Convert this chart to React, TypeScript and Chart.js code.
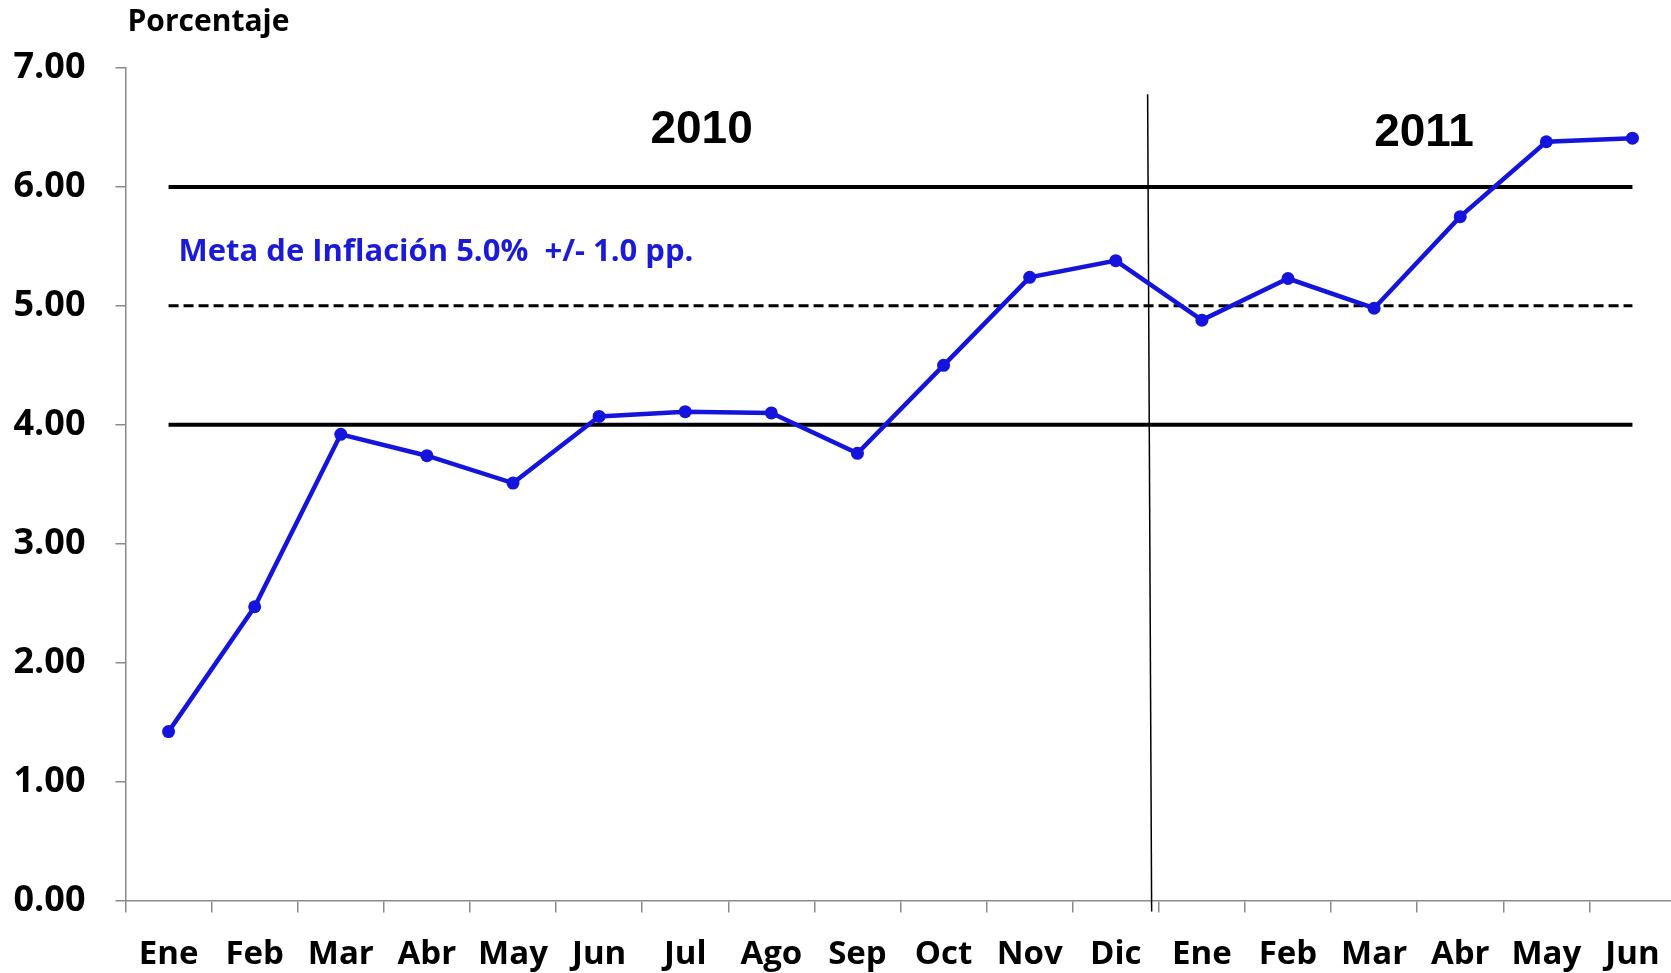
import React, { useEffect, useRef } from "react";
import { Chart, registerables } from "chart.js";

Chart.register(...registerables);

const months = ["Ene", "Feb", "Mar", "Abr", "May", "Jun", "Jul", "Ago", "Sep", "Oct", "Nov", "Dic", "Ene", "Feb", "Mar", "Abr", "May", "Jun"];
const inflation = [1.42, 2.47, 3.92, 3.74, 3.51, 4.07, 4.11, 4.1, 3.76, 4.5, 5.24, 5.38, 4.88, 5.23, 4.98, 5.75, 6.38, 6.41];
const targetLower = 4;
const targetCenter = 5;
const targetUpper = 6;
const yMin = 0;
const yMax = 7;
const yStep = 1;
const yearLabels = [
  { text: "2010", at: 6.19, value: 6.48 },
  { text: "2011", at: 14.58, value: 6.45 },
];
const yearDividerAt = 11.37;
const yearDividerTop = 6.78;
const targetNote = "Meta de Inflación 5.0%  +/- 1.0 pp.";
const yTitle = "Porcentaje";

const FONT = "'Open Sans', Lato, sans-serif";

const overlayPlugin = {
  id: "overlay",
  beforeDatasetsDraw(chart: any) {
    const { ctx, scales } = chart;
    const x = scales.x;
    const y = scales.y;
    const x0 = x.getPixelForValue(0);
    const x1 = x.getPixelForValue(months.length - 1);
    ctx.save();
    ctx.strokeStyle = "#000000";
    ctx.lineWidth = 4;
    for (const v of [targetUpper, targetLower]) {
      const py = y.getPixelForValue(v);
      ctx.beginPath();
      ctx.moveTo(x0, py);
      ctx.lineTo(x1, py);
      ctx.stroke();
    }
    ctx.lineWidth = 3;
    ctx.setLineDash([10, 5]);
    const pc = y.getPixelForValue(targetCenter);
    ctx.beginPath();
    ctx.moveTo(x0, pc);
    ctx.lineTo(x1, pc);
    ctx.stroke();
    ctx.setLineDash([]);
    const dx = x.getPixelForValue(yearDividerAt);
    ctx.lineWidth = 1.5;
    ctx.beginPath();
    ctx.moveTo(dx, y.getPixelForValue(yearDividerTop));
    ctx.lineTo(dx + 4, y.bottom + 11);
    ctx.stroke();
    ctx.fillStyle = "#000000";
    ctx.font = "bold 46px 'Liberation Sans', Arial, sans-serif";
    ctx.textAlign = "center";
    ctx.textBaseline = "middle";
    for (const yl of yearLabels) {
      ctx.fillText(yl.text, x.getPixelForValue(yl.at), y.getPixelForValue(yl.value));
    }
    ctx.fillStyle = "#1a1ad8";
    ctx.font = "bold 31px " + FONT;
    ctx.textAlign = "left";
    ctx.fillText(targetNote, x0 + 10, y.getPixelForValue(5.45));
    ctx.fillStyle = "#000000";
    ctx.font = "bold 30px " + FONT;
    ctx.fillText(yTitle, y.right + 2, 22);
    ctx.restore();
  },
};

export default function App() {
  const ref = useRef<HTMLCanvasElement | null>(null);
  useEffect(() => {
    if (!ref.current) return;
    const chart = new Chart(ref.current, {
      type: "line",
      data: {
        labels: months,
        datasets: [
          {
            data: inflation,
            borderColor: "#1414dc",
            backgroundColor: "#1414dc",
            borderWidth: 4.5,
            pointRadius: 6.5,
            pointBorderWidth: 0,
            tension: 0,
          },
        ],
      },
      options: {
        responsive: false,
        animation: false,
        layout: { padding: { top: 68, right: 0, bottom: 0, left: 0 } },
        plugins: { legend: { display: false }, tooltip: { enabled: false } },
        scales: {
          x: {
            offset: true,
            grid: { offset: true, drawOnChartArea: false, tickLength: 12, color: "#8a8a8a", lineWidth: 1.5 },
            border: { color: "#8a8a8a", width: 1.5 },
            ticks: { color: "#000", font: { family: FONT, size: 33, weight: "bold" }, padding: 22, maxRotation: 0, autoSkip: false },
            afterFit: (s: any) => { s.height = 72.5; },
          },
          y: {
            min: yMin,
            max: yMax,
            grid: { drawOnChartArea: false, tickLength: 10, color: "#8a8a8a", lineWidth: 1.5 },
            border: { color: "#8a8a8a", width: 1.5 },
            ticks: {
              stepSize: yStep,
              color: "#000",
              font: { family: FONT, size: 36, weight: "bold" },
              padding: 30,
              callback: (v: any) => Number(v).toFixed(2),
            },
            afterFit: (s: any) => { s.width = 125.5; },
          },
        },
      },
      plugins: [overlayPlugin],
    });
    return () => chart.destroy();
  }, []);
  return (
    <div style={{ position: "fixed", left: 0, top: 0, width: 1671, height: 973, overflow: "hidden", background: "#fff" }}>
      <canvas ref={ref} width={1682} height={973} style={{ width: 1682, height: 973 }} />
    </div>
  );
}
